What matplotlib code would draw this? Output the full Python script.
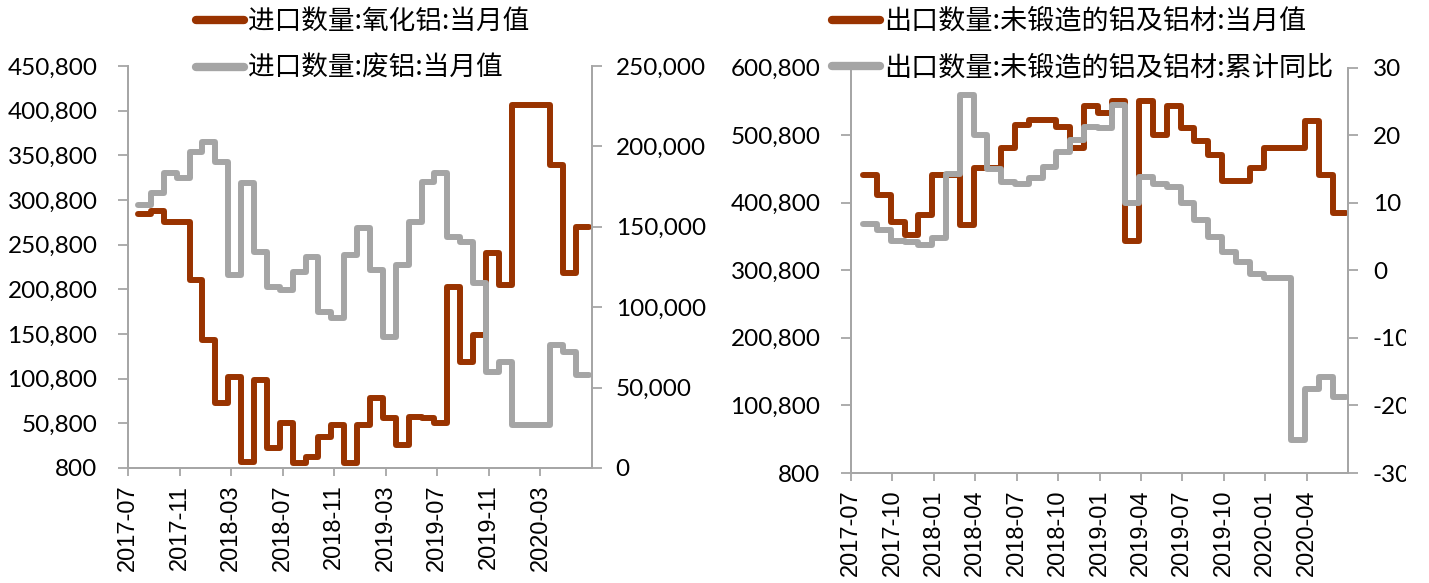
import numpy as np
import matplotlib.pyplot as plt
from matplotlib.lines import Line2D
from matplotlib.font_manager import FontProperties
from matplotlib.ticker import FuncFormatter
from matplotlib.transforms import Bbox, TransformedBbox

plt.rcParams['axes.unicode_minus'] = False

BROWN = '#993300'
GREY = '#A5A5A5'
AXC = '#A6A6A6'

# 左图: 进口 (2017-07 ~ 2020-05, 月度)
alumina_imp = [285100, 288800, 275800, 275800, 211200, 144100, 73200, 103000, 7900, 99300,
               22800, 50800, 6000, 13400, 35800, 48900, 6000, 48900, 78800, 56400,
               26500, 58200, 56400, 50800, 203700, 119800, 149700, 241100, 205600, 407100,
               407100, 407100, 340000, 218700, 270900]
scrap_imp = [163600, 170800, 183300, 180200, 196700, 202900, 190500, 120000, 177100, 134500,
             112800, 110700, 122100, 131400, 97200, 93100, 132500, 149100, 123100, 81700,
             126200, 153200, 178100, 183300, 143800, 140700, 114900, 59900, 66100, 26700,
             26700, 26700, 76500, 72300, 57800]
ticks_left = ['2017-07', '2017-11', '2018-03', '2018-07', '2018-11',
              '2019-03', '2019-07', '2019-11', '2020-03']

# 右图: 出口
alu_exp = [442100, 412500, 372100, 353300, 382900, 442100, 442100, 368100, 452000, 452000,
           481600, 515000, 523400, 523400, 513500, 481600, 543100, 533300, 550500, 343400,
           550500, 501200, 543100, 511200, 491400, 471700, 432200, 432200, 452000, 481600,
           481600, 481600, 520900, 442100, 385400]
alu_exp_yoy = [6.9, 5.9, 4.4, 4.2, 3.7, 4.7, 14.3, 25.9, 20.0, 15.0,
               13.1, 12.8, 13.6, 15.3, 17.5, 19.2, 21.2, 21.0, 24.4, 9.9,
               13.8, 12.8, 12.3, 9.9, 7.4, 4.9, 2.7, 1.2, -0.5, -1.2,
               -1.2, -25.1, -17.5, -15.8, -18.7]
ticks_right = ['2017-07', '2017-10', '2018-01', '2018-04', '2018-07', '2018-10',
               '2019-01', '2019-04', '2019-07', '2019-10', '2020-01', '2020-04']

W, H = 1429, 583
fig = plt.figure(figsize=(W / 100, H / 100), dpi=100)

ytick_font = dict(family='Lato', size=17.5)
xtick_font = dict(family='Liberation Sans', size=17)
LW = 4.3


def style_axes(ax, axr, step, labels, lpad, rpad):
    for a in (ax, axr):
        a.spines['top'].set_visible(False)
        for s in ('left', 'right', 'bottom'):
            a.spines[s].set_color(AXC)
            a.spines[s].set_linewidth(1.3)
        a.tick_params(axis='y', direction='out', length=7, width=1.3, color=AXC, labelcolor='black')
    ax.tick_params(axis='y', pad=lpad)
    axr.tick_params(axis='y', pad=rpad)
    ax.set_xlim(0, 36)
    ax.set_xticks(np.arange(len(labels)) * step)
    ax.set_xticklabels(labels, rotation=90, **xtick_font)
    ax.tick_params(axis='x', direction='out', length=6, width=1.3, color=AXC, pad=6)
    for lab in ax.get_yticklabels() + axr.get_yticklabels():
        lab.set_fontfamily(ytick_font['family'])
        lab.set_fontsize(ytick_font['size'])


def add_legend(labels, x, size):
    hs = [Line2D([], [], color=BROWN, lw=6, solid_capstyle='round'),
          Line2D([], [], color=GREY, lw=6, solid_capstyle='round')]
    fs_px = size * 100 / 72
    fig.legend(hs, labels, loc='upper left',
               bbox_to_anchor=(x / W, 1 - 8 / H), frameon=False,
               prop=FontProperties(family=['Noto Sans CJK SC', 'DejaVu Sans'], size=size),
               handlelength=48 / fs_px, handletextpad=0.15,
               labelspacing=(51 - 1.16 * fs_px) / fs_px, borderpad=0, borderaxespad=0)


fmt = FuncFormatter(lambda v, p: f'{v:,.0f}')

# ---------- 左图 ----------
ax1 = fig.add_axes([128 / W, (H - 468) / H, 464 / W, 402 / H])
ax1b = ax1.twinx()
edges_l = np.arange(len(alumina_imp) + 1) + 0.78
ax1.stairs(alumina_imp, edges_l, baseline=None, color=BROWN, linewidth=LW, joinstyle='round', capstyle='round')
ax1b.stairs(scrap_imp, edges_l, baseline=None, color=GREY, linewidth=LW, joinstyle='round', capstyle='round')
ax1.set_ylim(800, 450800)
ax1.set_yticks(np.arange(800, 450801, 50000))
ax1b.set_ylim(0, 250000)
ax1b.set_yticks(np.arange(0, 250001, 50000))
ax1.yaxis.set_major_formatter(fmt)
ax1b.yaxis.set_major_formatter(fmt)
style_axes(ax1, ax1b, 4, ticks_left, 15, 10)
add_legend(['进口数量:氧化铝:当月值', '进口数量:废铝:当月值'], 196, 19.2)

# ---------- 右图 ----------
ax2 = fig.add_axes([851 / W, (H - 473) / H, 497 / W, 405.5 / H])
ax2b = ax2.twinx()
edges_r = np.arange(len(alu_exp) + 1) + 0.88
ax2.stairs(alu_exp, edges_r, baseline=None, color=BROWN, linewidth=LW, joinstyle='round', capstyle='round')
ax2b.stairs(alu_exp_yoy, edges_r, baseline=None, color=GREY, linewidth=LW, joinstyle='round', capstyle='round')
ax2.set_ylim(800, 600800)
ax2.set_yticks(np.arange(800, 600801, 100000))
ax2.yaxis.set_major_formatter(fmt)
ax2b.set_ylim(-30, 30)
ax2b.set_yticks(np.arange(-30, 31, 10))
ax2b.yaxis.set_major_formatter(FuncFormatter(lambda v, p: f'{v:.0f}'))
style_axes(ax2, ax2b, 3, ticks_right, 15, 11)
add_legend(['出口数量:未锻造的铝及铝材:当月值', '出口数量:未锻造的铝及铝材:累计同比'], 832, 19.5)

# 原图右侧刻度标签被截断
clip = TransformedBbox(Bbox([[0, 0], [1406 / W, 1]]), fig.transFigure)
for lab in ax2b.get_yticklabels():
    lab.set_clip_on(True)
    lab.set_clip_box(clip)

fig.savefig('out.png', dpi=100)
